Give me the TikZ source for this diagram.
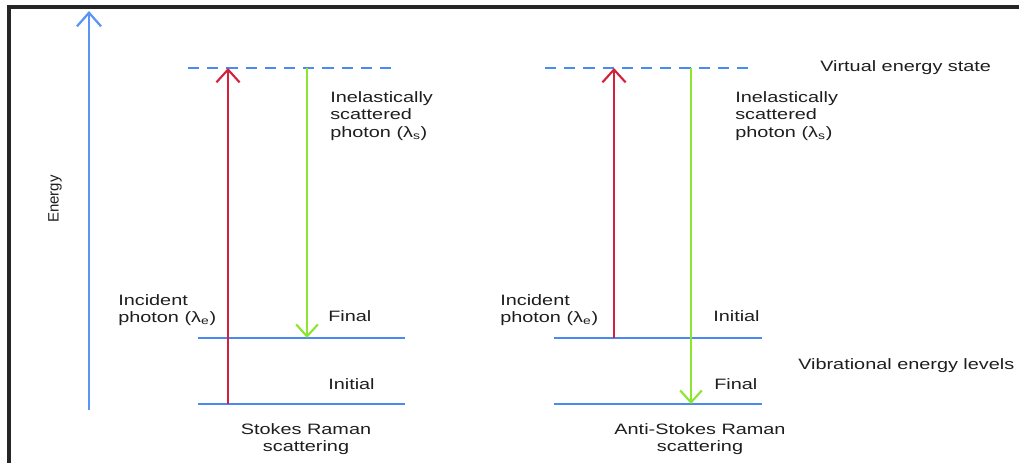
\documentclass[tikz,border=0pt]{standalone}
\usepackage{fontspec}
\setmainfont{Liberation Sans}
\newfontfamily\widesans[FakeStretch=1.32]{Liberation Sans}
\usepackage{xcolor}
\usepackage{tikz}
\usetikzlibrary{arrows.meta}
\definecolor{lvlblue}{HTML}{4A88F2}
\definecolor{phred}{HTML}{D4203C}
\definecolor{phgreen}{HTML}{8CE62E}
\definecolor{txtdark}{HTML}{1E1E1E}
\definecolor{framedark}{HTML}{262626}

\begin{document}
\begin{tikzpicture}[
  x=0.025cm, y=-0.025cm,
  vlevel/.style={lvlblue, line width=1.5pt},
  vstate/.style={lvlblue, line width=1.5pt, dash pattern=on 0.28cm off 0.2cm},
  incarrow/.style={-{Straight Barb[length=0.32cm,width=0.58cm]}, phred, line width=1.5pt},
  scaarrow/.style={-{Straight Barb[length=0.3cm,width=0.54cm]}, phgreen, line width=1.5pt},
  enarrow/.style={-{Straight Barb[length=0.34cm,width=0.6cm]}, lvlblue!90, line width=1.6pt},
  lbl/.style={font=\widesans\fontsize{10.7pt}{12.45pt}\selectfont\color{txtdark}, align=left, inner sep=0pt, anchor=base west},
  sublbl/.style={lbl, align=center, anchor=base},
]
\useasboundingbox (0,0) rectangle (1019,463);
\draw[framedark, line width=2.2pt] (9,463) -- (9,7) -- (1019,7);

% energy axis
\coordinate (ebot) at (89,410);
\coordinate (etop) at (89,11);
\draw[enarrow] (ebot) -- (etop);
\node[font=\fontsize{10.7pt}{12pt}\selectfont\color{txtdark}, rotate=90, inner sep=0pt] (energy) at (55,199) {Energy};

% Stokes
\coordinate (svl) at (188,68);  \coordinate (svr) at (398,68);
\coordinate (sfl) at (198,338); \coordinate (sfr) at (405,338);
\coordinate (sil) at (198,404); \coordinate (sir) at (405,404);
\coordinate (sredb) at (228,404); \coordinate (sredt) at (228,68);
\coordinate (sgrt) at (307,68);   \coordinate (sgrb) at (307,338);
\draw[vstate] (svl) -- (svr);
\draw[vlevel] (sfl) -- (sfr);
\draw[vlevel] (sil) -- (sir);
\draw[incarrow] (sredb) -- (sredt);
\draw[scaarrow] (sgrt) -- (sgrb);
\node[lbl] (sscat) at (330,137.5) {Inelastically\\scattered\\photon (λ\textsubscript{s})};
\node[lbl] (sinc)  at (118,322.5) {Incident\\photon (λ\textsubscript{e})};
\node[lbl] (sfin)  at (328,321)   {Final};
\node[lbl] (sini)  at (328,389)   {Initial};
\node[sublbl] (scap)  at (306,451.5) {Stokes Raman\\scattering};

% anti-Stokes
\coordinate (avl) at (545,68);  \coordinate (avr) at (753,68);
\coordinate (ail) at (554,338); \coordinate (air) at (762,338);
\coordinate (afl) at (554,404); \coordinate (afr) at (762,404);
\coordinate (aredb) at (614,338); \coordinate (aredt) at (614,68);
\coordinate (agrt) at (691,68);   \coordinate (agrb) at (691,404);
\draw[vstate] (avl) -- (avr);
\draw[vlevel] (ail) -- (air);
\draw[vlevel] (afl) -- (afr);
\draw[incarrow] (aredb) -- (aredt);
\draw[scaarrow] (agrt) -- (agrb);
\node[lbl] (ascat) at (735,137.5) {Inelastically\\scattered\\photon (λ\textsubscript{s})};
\node[lbl] (ainc)  at (500,322.5) {Incident\\photon (λ\textsubscript{e})};
\node[lbl] (aini)  at (713,321)   {Initial};
\node[lbl] (afin)  at (714,389)   {Final};
\node[sublbl] (acap)  at (700,451.5) {Anti-Stokes Raman\\scattering};

% right-hand labels
\node[lbl] (virt) at (820,71)  {Virtual energy state};
\node[lbl] (vib)  at (798,369) {Vibrational energy levels};
\end{tikzpicture}
\end{document}
